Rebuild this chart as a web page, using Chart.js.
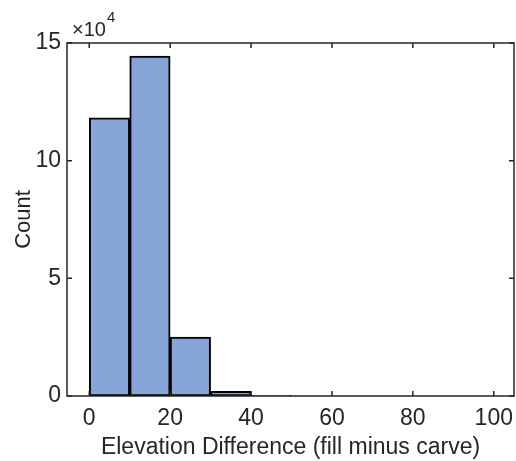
<!DOCTYPE html>
<html>
<head>
<meta charset="utf-8">
<script src="https://cdn.jsdelivr.net/npm/chart.js@4"></script>
<style>
    html, body { margin: 0; padding: 0; background: #ffffff; }
    #histChart { display: block; }
</style>
</head>
<body>
<canvas id="histChart" width="516" height="461"></canvas>
<script>
// histogram bins (bin centers, width 10) and counts
const binCenters = [5, 15, 25, 35, 45];
const binCounts = [118200, 144400, 25000, 2000, 300];

const xTicks = [0, 20, 40, 60, 80, 100];
const yTicks = [0, 50000, 100000, 150000];

const xTitle = "Elevation Difference (fill minus carve)";
const yTitle = "Count";
const yExponent = "4";

const axisColor = "#262626";
const fontFamily = "'Liberation Sans', Arial, Helvetica, sans-serif";

// MATLAB-style box with inward ticks plus the x10^4 multiplier
const boxPlugin = {
    id: "boxTicks",
    afterDraw(chart) {
        const { ctx, chartArea: a, scales } = chart;
        ctx.save();
        ctx.strokeStyle = axisColor;
        ctx.lineWidth = 1.5;
        ctx.strokeRect(a.left, a.top, a.right - a.left, a.bottom - a.top);

        const len = 5;
        ctx.beginPath();
        for (const v of xTicks) {
            const x = scales.x.getPixelForValue(v);
            ctx.moveTo(x, a.bottom);
            ctx.lineTo(x, a.bottom - len);
            ctx.moveTo(x, a.top);
            ctx.lineTo(x, a.top + len);
        }
        for (const v of yTicks) {
            const y = scales.y.getPixelForValue(v);
            ctx.moveTo(a.left, y);
            ctx.lineTo(a.left + len, y);
            ctx.moveTo(a.right, y);
            ctx.lineTo(a.right - len, y);
        }
        ctx.stroke();

        ctx.fillStyle = axisColor;
        ctx.textBaseline = "alphabetic";
        ctx.textAlign = "left";
        ctx.font = "20px " + fontFamily;
        ctx.fillText("\u00d710", a.left + 5, a.top - 7);
        const w = ctx.measureText("\u00d710").width;
        ctx.font = "15px " + fontFamily;
        ctx.fillText(yExponent, a.left + 5 + w + 1, a.top - 21);
        ctx.restore();
    }
};

function initHistChart() {
    const canvas = document.getElementById("histChart");
    const ctx = canvas.getContext("2d");

    return new Chart(ctx, {
        type: "bar",
        data: {
            datasets: [{
                label: "Count",
                data: binCenters.map((c, i) => ({ x: c, y: binCounts[i] })),
                backgroundColor: "#88a5d8",
                borderColor: "#000000",
                borderWidth: 2,
                borderSkipped: false,
                barPercentage: 1,
                categoryPercentage: 1
            }]
        },
        options: {
            responsive: false,
            animation: false,
            layout: {
                padding: { top: 43, right: 2, left: 0, bottom: 0 }
            },
            plugins: {
                legend: { display: false },
                tooltip: { enabled: false }
            },
            scales: {
                x: {
                    type: "linear",
                    offset: false,
                    min: -5.5,
                    max: 105,
                    grid: { display: false, drawTicks: false },
                    border: { display: false },
                    afterFit: scale => {
                        scale.height = 65;
                        scale.paddingLeft = 0;
                        scale.paddingRight = 0;
                    },
                    afterBuildTicks: scale => {
                        scale.ticks = xTicks.map(v => ({ value: v }));
                    },
                    ticks: {
                        color: axisColor,
                        padding: 9,
                        maxRotation: 0,
                        autoSkip: false,
                        font: { family: fontFamily, size: 23 }
                    },
                    title: {
                        display: true,
                        text: xTitle,
                        color: axisColor,
                        padding: { top: 0, bottom: 0 },
                        font: { family: fontFamily, size: 23 }
                    }
                },
                y: {
                    min: 0,
                    max: 150000,
                    grid: { display: false, drawTicks: false },
                    border: { display: false },
                    afterFit: scale => {
                        scale.width = 67;
                        scale.paddingTop = 0;
                        scale.paddingBottom = 0;
                    },
                    afterBuildTicks: scale => {
                        scale.ticks = yTicks.map(v => ({ value: v }));
                    },
                    ticks: {
                        color: axisColor,
                        padding: 6,
                        autoSkip: false,
                        font: { family: fontFamily, size: 23 },
                        callback: v => String(v / 10000)
                    },
                    title: {
                        display: true,
                        text: yTitle,
                        color: axisColor,
                        padding: { top: 11, bottom: 0 },
                        font: { family: fontFamily, size: 22 }
                    }
                }
            }
        },
        plugins: [boxPlugin]
    });
}

initHistChart();
</script>
</body>
</html>
